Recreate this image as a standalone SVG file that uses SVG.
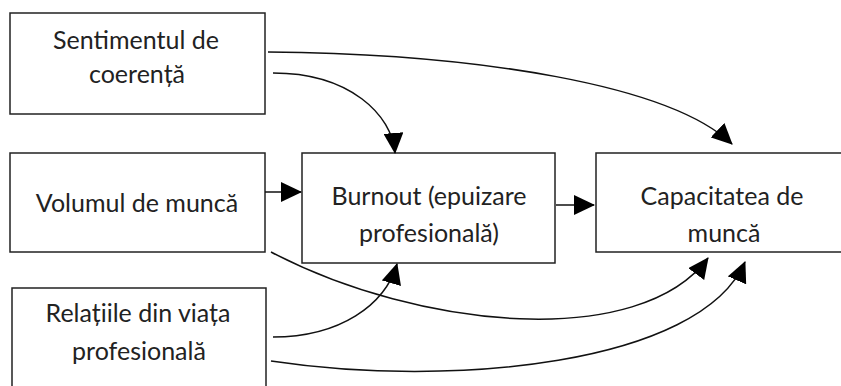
<svg xmlns="http://www.w3.org/2000/svg" width="841" height="386" viewBox="0 0 841 386">
<defs>
<style>
.box{fill:#fff;stroke:#222;stroke-width:1.5}
.t{font-family:Lato,"Open Sans",sans-serif;font-size:25px;fill:#222;text-anchor:middle}
.c{fill:none;stroke:#111;stroke-width:1.5}
</style>
<marker id="ah" viewBox="0 0 21 20" markerUnits="userSpaceOnUse" markerWidth="21" markerHeight="20" refX="20" refY="10" orient="auto">
<path d="M0,0 L21,10 L0,20 Z" fill="#000"/>
</marker>
</defs>
<rect width="841" height="386" fill="#fff"/>
<g id="n-sentiment">
<rect class="box" x="10" y="13" width="255" height="101"/>
<text class="t" x="136" y="49">Sentimentul de</text>
<text class="t" x="137" y="83">coerență</text>
</g>
<g id="n-volumul">
<rect class="box" x="10" y="153" width="255" height="99"/>
<text class="t" x="137" y="212">Volumul de muncă</text>
</g>
<g id="n-relatiile">
<rect class="box" x="12" y="288" width="254" height="110"/>
<text class="t" x="138" y="322">Relațiile din viața</text>
<text class="t" x="139" y="360">profesională</text>
</g>
<g id="n-burnout">
<rect class="box" x="302" y="153" width="253" height="110"/>
<text class="t" x="429" y="205">Burnout (epuizare</text>
<text class="t" x="429" y="242">profesională)</text>
</g>
<g id="n-capacitatea">
<rect class="box" x="596" y="153" width="260" height="99"/>
<text class="t" x="722" y="205">Capacitatea de</text>
<text class="t" x="724" y="242">muncă</text>
</g>
<g id="connectors">
<path class="c" marker-end="url(#ah)" d="M268,52 C480,54 670,85 732,144"/>
<path class="c" marker-end="url(#ah)" d="M273,73 C350,73 392,115 395,153"/>
<path class="c" marker-end="url(#ah)" d="M265,192 L301,192"/>
<path class="c" marker-end="url(#ah)" d="M556,205 L594,205"/>
<path class="c" marker-end="url(#ah)" d="M271,252 C420,330 640,350 708,258"/>
<path class="c" marker-end="url(#ah)" d="M273,337 C340,337 385,305 397,264"/>
<path class="c" marker-end="url(#ah)" d="M271,361 C450,388 700,365 745,262"/>
</g>
</svg>
